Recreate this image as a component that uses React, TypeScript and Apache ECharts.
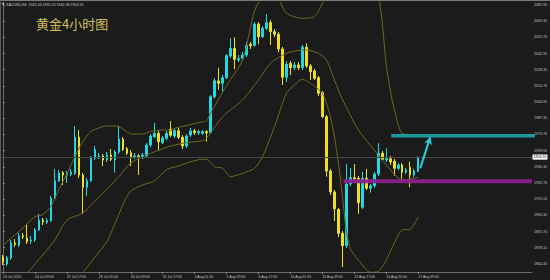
import React, { useEffect, useRef } from "react";
import * as echarts from "echarts";

// ---- data (4-hour XAUUSD candles) ----
const opens = [
  1870.2, 1864.3, 1869.4, 1882.0, 1880.3, 1888.2, 1886.3, 1883.7, 1884.6, 1893.0,
  1901.4, 1899.5, 1900.9, 1919.8, 1934.6, 1941.4, 1939.4, 1940.0, 1940.9, 1971.2,
  1939.4, 1929.0, 1934.6, 1953.5, 1954.4, 1955.5, 1952.1, 1956.3, 1952.1, 1958.8,
  1969.6, 1961.6, 1958.2, 1954.4, 1955.5, 1954.0, 1955.5, 1964.7, 1971.7, 1974.6,
  1966.7, 1970.4, 1978.0, 1972.3, 1976.8, 1971.2, 1963.9, 1973.2, 1976.6, 1974.9,
  1974.6, 1976.0, 1975.1, 2005.5, 2018.8, 2016.8, 2021.5, 2039.8, 2046.3, 2036.5,
  2037.9, 2040.7, 2049.7, 2048.9, 2066.9, 2056.1, 2063.2, 2068.0, 2060.4, 2058.2,
  2045.8, 2021.9, 2033.7, 2030.0, 2032.3, 2030.0, 2047.2, 2031.4, 2027.2, 2021.5,
  2008.9, 1988.6, 1942.8, 1925.1, 1910.3, 1890.2, 1879.8, 1931.8, 1937.1, 1936.6,
  1912.2, 1936.6, 1928.2, 1930.2, 1940.3, 1957.7, 1952.1, 1953.2, 1951.0, 1945.1,
  1947.9, 1941.9, 1945.9, 1939.4, 1942.3,
];
const closes = [
  1866.0, 1869.4, 1882.0, 1880.8, 1887.9, 1887.3, 1883.1, 1884.6, 1893.0, 1901.4,
  1899.8, 1900.9, 1919.8, 1934.6, 1941.4, 1939.4, 1940.5, 1941.9, 1971.2, 1939.4,
  1929.0, 1934.6, 1953.5, 1961.1, 1955.5, 1952.1, 1956.3, 1952.7, 1958.8, 1969.8,
  1961.1, 1957.7, 1954.4, 1955.5, 1954.4, 1956.3, 1964.7, 1972.3, 1974.6, 1967.5,
  1970.6, 1974.6, 1972.9, 1976.8, 1971.2, 1963.9, 1972.3, 1976.6, 1975.1, 1976.0,
  1976.0, 1974.9, 2005.5, 2019.0, 2016.8, 2021.5, 2040.1, 2046.3, 2037.1, 2037.6,
  2040.7, 2048.9, 2048.5, 2066.9, 2056.1, 2063.2, 2068.0, 2060.4, 2058.2, 2045.8,
  2021.9, 2032.8, 2030.0, 2032.3, 2030.0, 2047.2, 2031.4, 2026.6, 2021.0, 2008.4,
  1988.6, 1942.8, 1925.1, 1910.9, 1890.2, 1879.8, 1931.8, 1937.1, 1936.0, 1916.0,
  1936.6, 1928.2, 1930.2, 1940.3, 1957.7, 1952.7, 1953.2, 1950.4, 1945.1, 1947.9,
  1941.7, 1943.6, 1939.4, 1942.8, 1954.6,
];
const lows = [
  1863.5, 1862.6, 1867.7, 1878.7, 1878.7, 1885.4, 1881.2, 1881.2, 1882.9, 1892.2,
  1897.2, 1898.1, 1899.8, 1919.2, 1933.5, 1931.0, 1932.7, 1938.6, 1939.4, 1936.9,
  1906.5, 1921.7, 1933.5, 1952.1, 1952.9, 1947.0, 1950.4, 1951.2, 1941.4, 1957.1,
  1959.7, 1956.3, 1947.0, 1952.9, 1939.4, 1952.9, 1953.8, 1963.0, 1970.6, 1959.9,
  1965.6, 1969.0, 1971.5, 1970.6, 1969.8, 1961.4, 1962.2, 1971.5, 1973.2, 1973.2,
  1973.2, 1967.5, 1974.0, 2004.0, 2011.2, 2009.5, 2020.4, 2038.2, 2028.6, 2034.8,
  2036.5, 2039.0, 2045.8, 2047.5, 2049.7, 2055.0, 2061.8, 2049.1, 2055.9, 2043.2,
  2015.4, 2017.9, 2023.8, 2028.0, 2028.0, 2028.0, 2029.7, 2019.6, 2019.6, 2006.1,
  1987.5, 1938.0, 1922.5, 1900.6, 1887.1, 1861.8, 1877.8, 1930.1, 1933.5, 1906.5,
  1910.7, 1926.8, 1924.5, 1928.4, 1938.6, 1951.2, 1950.4, 1947.9, 1938.6, 1943.6,
  1932.7, 1940.3, 1929.0, 1937.7, 1942.3,
];
const highs = [
  1871.9, 1871.1, 1884.6, 1885.4, 1890.5, 1890.5, 1898.1, 1887.9, 1894.7, 1906.5,
  1903.1, 1903.1, 1921.7, 1944.5, 1943.6, 1942.8, 1942.8, 1944.5, 1980.8, 1977.4,
  1941.1, 1936.9, 1955.5, 1963.9, 1958.0, 1957.1, 1958.8, 1961.4, 1960.5, 1980.8,
  1971.5, 1963.0, 1960.5, 1958.0, 1957.1, 1958.0, 1966.4, 1974.0, 1983.5, 1976.6,
  1972.3, 1976.6, 1984.9, 1979.1, 1979.1, 1973.2, 1974.0, 1979.1, 1978.3, 1977.4,
  1977.4, 1977.4, 2006.9, 2021.3, 2030.0, 2023.8, 2041.5, 2055.0, 2055.6, 2040.7,
  2043.2, 2051.7, 2051.7, 2068.5, 2068.5, 2065.2, 2075.3, 2070.2, 2062.6, 2060.1,
  2047.5, 2035.6, 2035.6, 2034.8, 2034.8, 2049.1, 2050.6, 2033.1, 2028.9, 2023.0,
  2010.3, 1990.0, 1944.5, 1926.8, 1911.6, 1892.1, 1948.7, 1945.3, 1948.7, 1938.6,
  1942.2, 1944.5, 1931.8, 1942.0, 1966.2, 1959.7, 1961.9, 1955.5, 1952.9, 1949.5,
  1949.5, 1945.3, 1950.7, 1944.5, 1955.2,
];

// Bollinger band readings: [bar index, price]
const upperBand = [
  [0, 1880.3], [5, 1894.7], [8, 1904.2], [10, 1906.0], [12, 1912.7], [14, 1927.4],
  [16, 1940.4], [18, 1954.6], [20, 1967.5], [22, 1976.0], [25, 1980.2], [27, 1980.8],
  [29, 1980.2], [31, 1976.0], [32, 1974.0], [35, 1974.0], [37, 1976.2], [40, 1977.4],
  [42, 1977.0], [43, 1978.8], [47, 1982.0], [50, 1984.4], [51, 1985.2], [52, 1991.7],
  [56, 2015.0], [60, 2036.5], [63, 2078.0], [65, 2090.0], [67, 2094.0], [69, 2088.0],
  [71, 2075.9], [75, 2071.7], [78, 2073.0], [80, 2084.3], [82, 2095.0], [85, 2108.0],
  [90, 2112.0], [94, 2090.0], [96, 2032.0], [97, 2011.0], [98, 1995.0], [100, 1974.6],
  [104, 1973.2],
];
const middleBand = [
  [6, 1856.4], [11, 1876.1], [13, 1884.6], [16, 1901.4], [20, 1907.4], [25, 1924.2],
  [29, 1938.0], [32, 1949.5], [36, 1956.3], [41, 1962.8], [45, 1966.2], [50, 1968.4],
  [51, 1970.4], [55, 1988.6], [60, 2002.7], [64, 2019.6], [67, 2033.7], [71, 2042.1],
  [75, 2044.9], [76, 2044.9], [79, 2042.1], [81, 2036.5], [83, 2019.6], [85, 2003.5],
  [89, 1977.4], [93, 1960.5], [96, 1947.9], [100, 1935.2], [104, 1937.5],
];
const lowerBand = [
  [20, 1857.0], [23, 1870.0], [26, 1883.0], [28, 1898.0], [30, 1914.0], [31, 1921.0],
  [32, 1926.0], [35, 1931.0], [38, 1934.6], [41, 1944.0], [44, 1947.0], [47, 1950.6],
  [50, 1952.7], [51, 1952.7], [53, 1946.4], [55, 1945.1], [57, 1938.0], [60, 1940.8],
  [63, 1945.1], [65, 1954.9], [68, 1980.2], [71, 2008.4], [73, 2015.4], [75, 2020.2],
  [77, 2016.8], [80, 2008.4], [82, 1988.6], [83, 1972.0], [84, 1950.0], [85, 1922.0],
  [86, 1892.0], [87, 1877.0], [88, 1872.0], [89, 1867.7], [92, 1857.3], [94, 1858.0],
  [96, 1867.7], [98, 1882.0], [100, 1893.0], [102, 1893.6], [104, 1904.2],
];

const xTickLabels = [
  "23 Jul 2020", "24 Jul 09:00", "27 Jul 17:00", "29 Jul 01:00", "30 Jul 09:00",
  "31 Jul 17:00", "4 Aug 01:00", "5 Aug 09:00", "6 Aug 17:00", "10 Aug 01:00",
  "11 Aug 09:00", "12 Aug 17:00", "14 Aug 01:00", "17 Aug 09:00",
];
const yTickValues = [
  2082.9, 2069.3, 2055.7, 2041.9, 2028.3, 2014.7, 2000.9, 1987.3, 1973.7,
  1959.9, 1946.3, 1932.7, 1919.1, 1905.3, 1891.7, 1878.1, 1864.3,
];
const bidPrice = 1954.55;
const resistanceLevel = 1972.5;
const supportLevel = 1934.1;
const resistanceSpan = [97.25, 133.25];
const supportSpan = [85.25, 132.5];
const arrowFrom = [104.5, 1945.0];
const arrowTo = [107, 1971.2];
const infoText = "XAUUSD,H4  1942.34 1955.20 1942.38 1954.55";
const titleText = "黄金4小时图";
const SLOTS = 133;
const LABEL_STEP = 8;

export default function App() {
  const ref = useRef<HTMLDivElement>(null);

  useEffect(() => {
    document.body.style.margin = "0";
    const chart = echarts.init(ref.current as HTMLDivElement, null, { renderer: "svg" });
    const categories = Array.from({ length: SLOTS }, (_, i) => String(i));
    const candles = opens.map((o, i) => [o, closes[i], lows[i], highs[i]]);
    const lastBar = opens.length - 1;
    const showTick = (index: number) => index % LABEL_STEP === 0 && index <= lastBar;
    const bandStyle = { color: "#6d6a22", width: 1 };

    const option: any = {
      animation: false,
      backgroundColor: "#1b1b1b",
      title: [
        {
          text: titleText,
          left: 36,
          top: 17,
          padding: 0,
          textStyle: { color: "#cdbf5e", fontSize: 13, fontWeight: "normal", fontFamily: "Noto Sans CJK SC" },
        },
        {
          text: infoText,
          left: 6,
          top: 2.6,
          padding: 0,
          textStyle: { color: "#c8c8c8", fontSize: 3.6, fontWeight: "normal", fontFamily: "Liberation Sans" },
        },
      ],
      grid: { left: 0, top: 2, width: 532, height: 270 },
      xAxis: [
        {
          type: "category",
          data: categories,
          boundaryGap: true,
          axisLine: { show: true, lineStyle: { color: "#6a6a6a", width: 1 } },
          axisTick: { show: true, length: 2, interval: showTick, alignWithLabel: true, lineStyle: { color: "#8a8a8a" } },
          axisLabel: {
            interval: showTick,
            formatter: (_v: string, idx: number) => xTickLabels[idx / LABEL_STEP] ?? "",
            align: "left",
            color: "#c4c4c4",
            fontSize: 3.5,
            margin: 2.5,
            fontFamily: "Liberation Sans",
          },
          splitLine: { show: false },
        },
        { type: "value", min: -0.5, max: SLOTS - 0.5, show: false, gridIndex: 0 },
      ],
      yAxis: {
        type: "value",
        position: "right",
        min: 1857.55,
        max: 2085.43,
        axisLine: { show: true, lineStyle: { color: "#6a6a6a", width: 1 } },
        axisTick: { show: true, length: 2, customValues: yTickValues, lineStyle: { color: "#8a8a8a" } },
        axisLabel: {
          customValues: yTickValues,
          formatter: (v: number) => v.toFixed(2),
          color: "#c4c4c4",
          fontSize: 3.6,
          margin: 2,
          fontFamily: "Liberation Sans",
        },
        splitLine: { show: false },
      },
      graphic: [
        { type: "line", shape: { x1: 0, y1: 0.5, x2: 550, y2: 0.5 }, style: { stroke: "#7a7a7a", lineWidth: 1 }, z: 100 },
        { type: "line", shape: { x1: 0.5, y1: 0, x2: 0.5, y2: 280 }, style: { stroke: "#5a5a5a", lineWidth: 1 }, z: 100 },
        { type: "polygon", shape: { points: [[1.5, 3], [4.5, 3], [3, 5.2]] }, style: { fill: "#bbbbbb" }, z: 100 },
      ],
      series: [
        {
          type: "candlestick",
          xAxisIndex: 0,
          data: candles,
          barWidth: 2,
          itemStyle: {
            color: "#22d8e2",
            color0: "#eee020",
            borderColor: "#22d8e2",
            borderColor0: "#eee020",
            borderWidth: 1,
          },
          markLine: {
            silent: true,
            symbol: ["none", "none"],
            lineStyle: { color: "#474747", width: 1, type: "solid" },
            label: {
              show: true,
              position: "end",
              formatter: bidPrice.toFixed(2),
              backgroundColor: "#ffffff",
              color: "#000000",
              fontSize: 3.6,
              padding: [0.6, 1],
              distance: 0.5,
              fontFamily: "Liberation Sans",
            },
            data: [{ yAxis: bidPrice }],
          },
          z: 2,
        },
        { type: "line", xAxisIndex: 1, data: upperBand, showSymbol: false, smooth: 0.25, lineStyle: bandStyle, silent: true, z: 3 },
        { type: "line", xAxisIndex: 1, data: middleBand, showSymbol: false, smooth: 0.25, lineStyle: bandStyle, silent: true, z: 3 },
        { type: "line", xAxisIndex: 1, data: lowerBand, showSymbol: false, smooth: 0.25, lineStyle: bandStyle, silent: true, z: 3 },
        {
          type: "line",
          xAxisIndex: 1,
          data: supportSpan.map((x) => [x, supportLevel]),
          showSymbol: false,
          lineStyle: { color: "#8e1f8e", width: 4, opacity: 0.95 },
          silent: true,
          z: 4,
        },
        {
          type: "line",
          xAxisIndex: 1,
          data: resistanceSpan.map((x) => [x, resistanceLevel]),
          showSymbol: false,
          clip: false,
          lineStyle: { color: "#1c9a9a", width: 3.5 },
          silent: true,
          z: 4,
          markLine: {
            silent: true,
            symbol: ["none", "arrow"],
            symbolSize: [6, 7],
            lineStyle: { color: "#27cfe0", width: 2, type: "solid" },
            label: { show: false },
            data: [[{ coord: arrowFrom }, { coord: arrowTo }]],
          },
        },
      ],
    };

    chart.setOption(option);
    return () => chart.dispose();
  }, []);

  return (
    <div
      ref={ref}
      style={{ width: 550, height: 280, position: "absolute", left: 0, top: 0 }}
    />
  );
}
